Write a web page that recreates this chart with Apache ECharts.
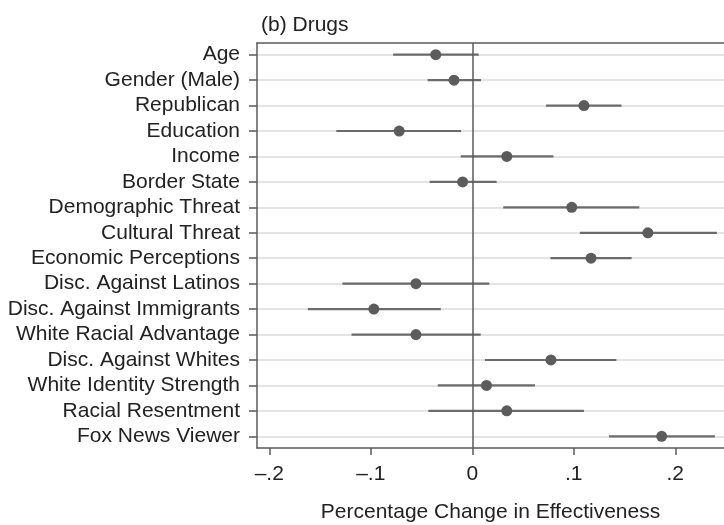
<!DOCTYPE html>
<html>
<head>
<meta charset="utf-8">
<script src="https://cdn.jsdelivr.net/npm/echarts@6/dist/echarts.min.js"></script>
<style>
html,body{margin:0;padding:0;background:#fff;}
#chart{width:724px;height:525px;}
</style>
</head>
<body>
<div id="chart"></div>
<script>
const categories = ['Age','Gender (Male)','Republican','Education','Income','Border State','Demographic Threat','Cultural Threat','Economic Perceptions','Disc. Against Latinos','Disc. Against Immigrants','White Racial Advantage','Disc. Against Whites','White Identity Strength','Racial Resentment','Fox News Viewer'];
const estimates = [-0.036, -0.018, 0.110, -0.072, 0.034, -0.0095, 0.098, 0.173, 0.117, -0.0555, -0.097, -0.0555, 0.0775, 0.014, 0.034, 0.1866];
const lower = [-0.078, -0.044, 0.0726, -0.134, -0.0114, -0.042, 0.0305, 0.106, 0.077, -0.128, -0.162, -0.119, 0.0125, -0.034, -0.0433, 0.1347];
const upper = [0.0063, 0.0086, 0.147, -0.011, 0.080, 0.024, 0.1645, 0.241, 0.157, 0.0168, -0.031, 0.0083, 0.142, 0.0618, 0.110, 0.239];
const xTickValues = [-0.2, -0.1, 0, 0.1, 0.2];
const xTickLabels = ['\u2013.2', '\u2013.1', '0', '.1', '.2'];
const titleText = '(b) Drugs';
const xAxisTitle = 'Percentage Change in Effectiveness';

const rowIdx = categories.map((c, i) => i);
const FONT = 'Liberation Sans';
const FS = 21;
const TXT = '#222';
const AX = '#5a5a5a';

const chart = echarts.init(document.getElementById('chart'), null, {renderer: 'canvas'});
chart.setOption({
  animation: false,
  backgroundColor: '#fff',
  textStyle: {fontFamily: FONT},
  title: {
    text: titleText, left: 256, top: 10,
    textStyle: {fontFamily: FONT, fontSize: FS, fontWeight: 'normal', color: TXT}
  },
  grid: {left: 257, top: 43, right: 0, bottom: 77, containLabel: false, outerBoundsMode: 'none'},
  xAxis: [{
    type: 'value', min: -0.2121, max: 0.248, position: 'bottom',
    name: xAxisTitle, nameLocation: 'middle', nameGap: 54,
    nameTextStyle: {fontFamily: FONT, fontSize: FS, color: TXT},
    axisLine: {show: true, onZero: false, lineStyle: {color: AX, width: 1.5}},
    axisTick: {show: true, length: 7, customValues: xTickValues, lineStyle: {color: AX, width: 1.5}},
    axisLabel: {show: true, customValues: xTickValues, margin: 16, fontFamily: FONT, fontSize: FS, color: TXT,
      formatter: v => { const k = xTickValues.findIndex(t => Math.abs(t - v) < 1e-9); return k >= 0 ? xTickLabels[k] : ''; }},
    splitLine: {show: false}
  }, {
    type: 'value', min: -0.2121, max: 0.248, position: 'top',
    axisLine: {show: true, onZero: false, lineStyle: {color: AX, width: 1.5}},
    axisTick: {show: false}, axisLabel: {show: false}, splitLine: {show: false}
  }],
  yAxis: {
    type: 'value', inverse: true, min: -0.46, max: 15.46,
    axisLine: {show: true, onZero: false, lineStyle: {color: AX, width: 1.5}},
    axisTick: {show: true, length: 8, customValues: rowIdx, lineStyle: {color: AX, width: 1.5}},
    axisLabel: {show: true, customValues: rowIdx, margin: 17, fontFamily: FONT, fontSize: FS, color: TXT,
      formatter: v => categories[Math.round(v)] || ''},
    splitLine: {show: true, lineStyle: {color: '#e4e4e4', width: 1.8}}
  },
  series: [{
    type: 'custom',
    xAxisIndex: 0,
    data: rowIdx.map(i => [lower[i], upper[i], i]),
    renderItem: function (params, api) {
      const p1 = api.coord([api.value(0), api.value(2)]);
      const p2 = api.coord([api.value(1), api.value(2)]);
      return {type: 'line', shape: {x1: p1[0], y1: p1[1], x2: p2[0], y2: p2[1]},
        style: {stroke: '#6b6b6b', lineWidth: 2.2}};
    },
    markLine: {
      silent: true, symbol: 'none', label: {show: false},
      lineStyle: {color: AX, width: 1.5, type: 'solid'},
      data: [{xAxis: 0}]
    },
    z: 3
  }, {
    type: 'scatter',
    xAxisIndex: 0,
    data: rowIdx.map(i => [estimates[i], i]),
    symbol: 'circle', symbolSize: 11,
    itemStyle: {color: '#5c5c5c', opacity: 1},
    z: 5
  }]
});
</script>
</body>
</html>
